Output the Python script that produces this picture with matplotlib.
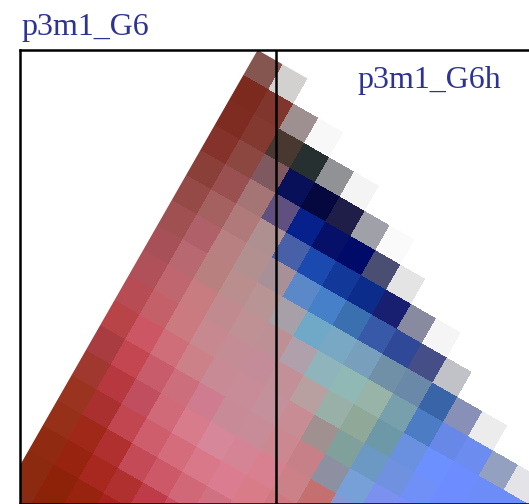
import numpy as np
import matplotlib
matplotlib.use("Agg")
import matplotlib.pyplot as plt
from matplotlib.colors import to_rgba
from matplotlib.transforms import Affine2D

title_left = "p3m1_G6"
title_right = "p3m1_G6h"
text_color = "#2d3391"

row00 = ["#85564f", "#d3d0d0"]
row01 = ["#7c2a1e", "#80362c", "#9e9090", "#f8f8f8"]
row02 = ["#7e2b22", "#83392f", "#483830", "#263030", "#909296", "#f4f4f4"]
row03 = ["#85322a", "#8c4840", "#805860", "#08105a", "#05083f", "#1e1e48", "#a0a0a8", "#fafafa"]
row04 = ["#8a4038", "#9a5050", "#a57575", "#5f5080", "#06208c", "#061068", "#000a68", "#4a4e72", "#e4e4e4"]
row05 = ["#964a48", "#a56060", "#b07a7a", "#ae9090", "#4860a8", "#1a4ab0", "#12389a", "#0c2c8c", "#181f70", "#888aa0", "#f5f5f5"]
row06 = ["#a05050", "#b06068", "#b88080", "#b29090", "#a89098", "#5a88c8", "#4580c8", "#3a70b0", "#3858a8", "#304898", "#464e88", "#c0c2c8"]
row07 = ["#a85058", "#b86870", "#b98080", "#b98e8c", "#b89494", "#a8a0a8", "#70a8c8", "#78a8c4", "#78a0bc", "#7090a8", "#6a88a8", "#3a64a8", "#8890b8", "#ececec"]
row08 = ["#b05058", "#c0666e", "#c87c80", "#c08a8e", "#bf9094", "#bd9095", "#b0a0ac", "#90b4bc", "#90b8b4", "#98b4a8", "#78a0ac", "#4c7cc4", "#6888e8", "#6c8cf0", "#94a0c0", "#e4e4e8"]
row09 = ["#b84c55", "#c46068", "#cb7a80", "#c88890", "#c48c94", "#c48c98", "#c49098", "#b8a0a0", "#98b0a8", "#90a898", "#6c98a8", "#6a90e0", "#6c90ff", "#6c8cff", "#6c8cf8", "#6c8cf8"]
row10 = ["#b84448", "#cc5664", "#cf6e78", "#cc8088", "#c88a94", "#c88c98", "#c4909c", "#c88c94", "#a09090", "#80a09c", "#6c98c4", "#7090e0", "#7090f8", "#6c8cff", "#6c8cff"]
row11 = ["#a83c40", "#c44650", "#c85c6a", "#cc6e7c", "#d07c90", "#c98a98", "#c88c98", "#cc8890", "#c88088", "#8c90a0", "#78a0d8", "#7c90f0", "#7890f8"]
row12 = ["#a03830", "#b83840", "#c04e5e", "#d06a78", "#d87c8c", "#d6889a", "#d48494", "#d88090", "#cc8088", "#c47070", "#8898d0"]
row13 = ["#9a3420", "#aa3030", "#c24650", "#cf5e6c", "#d46c7c", "#d87888", "#dc7c90", "#d87c88", "#d07880"]
row14 = ["#963018", "#a02818", "#b03030", "#c44a58", "#cc5868", "#d06878", "#d07080", "#d87888"]
row15 = ["#902a10", "#982410", "#a82820", "#b03030", "#be3c48", "#c85060"]
row16 = ["#8c2a10", "#8e2208", "#982410", "#a82020", "#b03030"]
row17 = ["#8a2a10", "#8a2408", "#8e2208"]
rows = [row00, row01, row02, row03, row04, row05, row06, row07, row08,
        row09, row10, row11, row12, row13, row14, row15, row16, row17]

W, H = 529, 504
fig = plt.figure(figsize=(W / 100, H / 100), dpi=100)
left, top = 20.0, 50.0
ax = fig.add_axes([left / W, 0, (W + 30 - left) / W, (H - top) / H])
ax.set_xlim(left, W + 30)
ax.set_ylim(H, top)
ax.set_xticks([])
ax.set_yticks([])
for s in ax.spines.values():
    s.set_linewidth(1.8)
    s.set_color("black")

ncol = max(len(r) for r in rows)
img = np.zeros((len(rows), ncol, 4))
for j, r in enumerate(rows):
    for i, c in enumerate(r):
        img[j, i] = to_rgba(c)

size = 28.8
angle = 29.8
ox, oy = 263.0, 70.0
tr = Affine2D().scale(size).rotate_deg(angle).translate(ox, oy) + ax.transData
ax.imshow(img, extent=(-0.5, ncol - 0.5, len(rows) - 0.5, -0.5), origin="upper",
          interpolation="nearest", transform=tr, zorder=1)
ax.set_xlim(left, W + 30)
ax.set_ylim(H, top)
ax.axvline(276, color="black", lw=1.8, zorder=3)

serif = "Liberation Serif"
ax.text(21, 35, title_left, family=serif, fontsize=23, color=text_color, clip_on=False)
ax.text(357, 88, title_right, family=serif, fontsize=23, color=text_color, zorder=4)
fig.savefig("out.png", dpi=100)
